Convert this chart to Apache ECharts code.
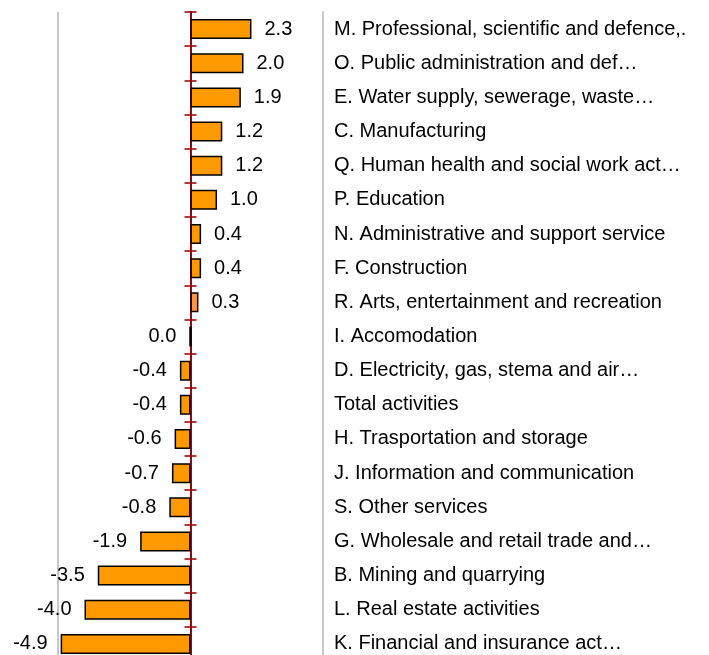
<!DOCTYPE html>
<html>
<head>
<meta charset="utf-8">
<script src="https://cdn.jsdelivr.net/npm/echarts@6/dist/echarts.min.js"></script>
<style>
  html, body { margin: 0; padding: 0; background: #fff; }
  #chart { width: 709px; height: 655px; }
</style>
</head>
<body>
<div id="chart"></div>
<script>
const categories = [
  "M. Professional, scientific and defence,.",
  "O. Public administration and def…",
  "E. Water supply, sewerage, waste…",
  "C. Manufacturing",
  "Q. Human health and social work act…",
  "P. Education",
  "N. Administrative and support service",
  "F. Construction",
  "R. Arts, entertainment and recreation",
  "I. Accomodation",
  "D. Electricity, gas, stema and air…",
  "Total activities",
  "H. Trasportation and storage",
  "J. Information and communication",
  "S. Other services",
  "G. Wholesale and retail trade and…",
  "B. Mining and quarrying",
  "L. Real estate activities",
  "K. Financial and insurance act…"
];
const values = [2.3, 2.0, 1.9, 1.2, 1.2, 1.0, 0.4, 0.4, 0.3, 0.0, -0.4, -0.4, -0.6, -0.7, -0.8, -1.9, -3.5, -4.0, -4.9];
const highlighted = ["R. Arts, entertainment and recreation"];

const font = "'Liberation Sans', Arial, sans-serif";
const chart = echarts.init(document.getElementById("chart"));

// grid: 58..323, zero sits in the middle (x = 190.5); last row runs off the bottom
chart.setOption({
  animation: false,
  backgroundColor: "#fff",
  grid: { left: 58, top: 12, width: 265, height: 649, outerBoundsMode: "none", containLabel: false },
  xAxis: {
    type: "value",
    min: -5,
    max: 5,
    interval: 5,
    axisLabel: { show: false },
    axisTick: { show: false },
    axisLine: { show: false },
    splitLine: { show: true, lineStyle: { color: "#c8c8c8", width: 2 } }
  },
  yAxis: [
    {
      type: "category",
      data: categories,
      inverse: true,
      position: "left",
      axisLine: { onZero: true, lineStyle: { color: "#8B0000", width: 1.5 } },
      axisTick: { show: true, length: 6, lineStyle: { color: "#8B0000", width: 1.5 } },
      axisLabel: { show: false },
      splitLine: { show: false }
    },
    {
      // inward half of the crossing ticks
      type: "category",
      data: categories,
      inverse: true,
      position: "left",
      offset: -132.5,
      axisLine: { onZero: false, lineStyle: { color: "#8B0000", width: 1.5 } },
      axisTick: { show: true, inside: true, length: 6, lineStyle: { color: "#8B0000", width: 1.5 } },
      axisLabel: { show: false },
      splitLine: { show: false }
    },
    {
      type: "category",
      data: categories,
      inverse: true,
      position: "right",
      axisLine: { onZero: false, show: true, lineStyle: { color: "#c8c8c8", width: 2 } },
      axisTick: { show: false },
      axisLabel: { show: true, color: "#000", fontSize: 20, fontFamily: font, margin: 11, align: "left" },
      splitLine: { show: false }
    }
  ],
  series: [
    {
      type: "bar",
      yAxisIndex: 0,
      barWidth: 20,
      z: 3,
      data: values.map((v, i) => ({
        value: v,
        itemStyle: {
          color: highlighted.includes(categories[i]) ? "#F79646" : "#FF9900",
          borderColor: "#000",
          borderWidth: v === 0 ? 2.5 : 1.5
        },
        label: {
          show: true,
          position: v > 0 ? "right" : "left",
          distance: 13,
          color: "#000",
          fontSize: 20,
          fontFamily: font,
          formatter: () => v.toFixed(1)
        }
      }))
    }
  ]
});
</script>
</body>
</html>
